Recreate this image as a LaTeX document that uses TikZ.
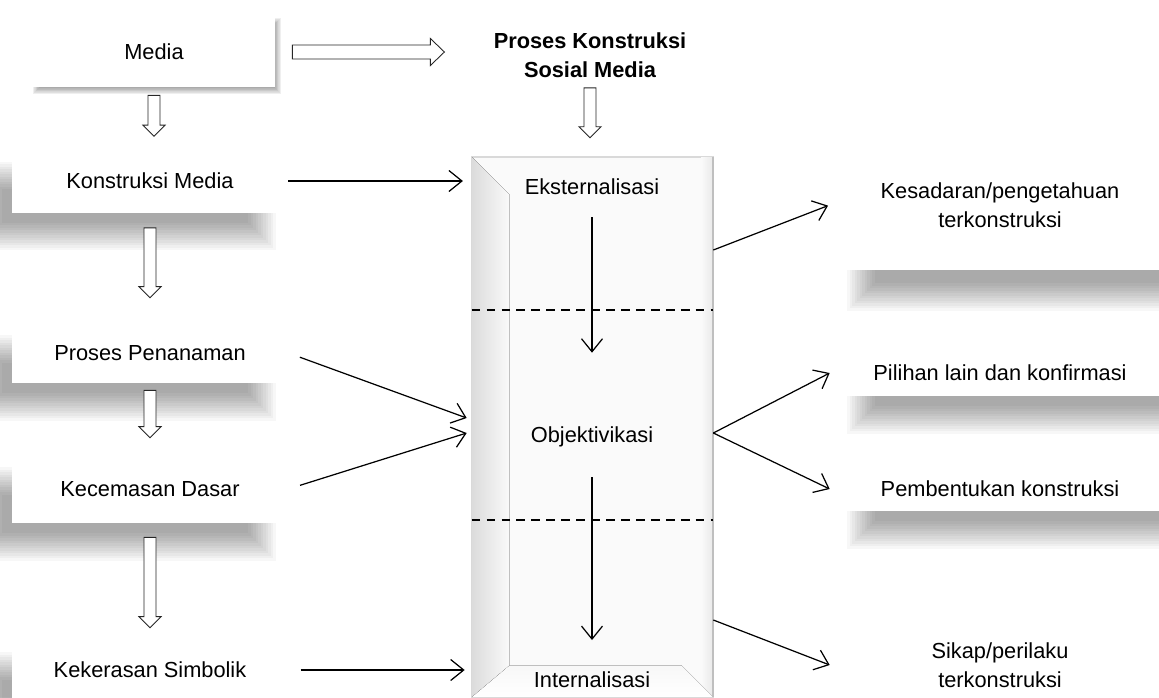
\documentclass[tikz,border=0pt]{standalone}
\usepackage{fontspec}
\setmainfont{Liberation Sans}
\usepackage{tikz}
\usetikzlibrary{arrows.meta}
\usetikzlibrary{calc,backgrounds,positioning}

\newcommand{\diafont}{\fontsize{12.4pt}{16.5pt}\selectfont}
% hollow block arrows between two nodes (gaps in px)
\newcommand{\hollowdown}[4]{%
	\draw[hollow] ($(#1)+(-6,#3)$) -- ($(#1)+(6,#3)$)
		-- ($(#1 |- #2)+(6,-#4-11)$) -- ($(#1 |- #2)+(11,-#4-11)$)
		-- ($(#1 |- #2)+(0,-#4)$)
		-- ($(#1 |- #2)+(-11,-#4-11)$) -- ($(#1 |- #2)+(-6,-#4-11)$) -- cycle;}
\newcommand{\hollowright}[4]{%
	\draw[hollow] ($(#1)+(#3,-7)$) -- ($(#1)+(#3,7)$)
		-- ($(#2 |- #1)+(-#4-14,7)$) -- ($(#2 |- #1)+(-#4-14,13.5)$)
		-- ($(#2 |- #1)+(-#4,0)$)
		-- ($(#2 |- #1)+(-#4-14,-13.5)$) -- ($(#2 |- #1)+(-#4-14,-7)$) -- cycle;}
% soft shadow behind a node: node, dx, dy, step
\newcommand{\softshadow}[4]{%
	\foreach \i in {1,...,12}
		\fill[black, opacity=0.032] ($(#1.north west)+(#2+\i*#4-6*#4,#3+\i*#4-6*#4)$)
			rectangle ($(#1.south east)+(#2-\i*#4+6*#4,#3-\i*#4+6*#4)$);}

\begin{document}
\begin{tikzpicture}[x=0.02cm, y=-0.02cm, font=\diafont,
	>={Straight Barb[length=2.6mm,width=4.2mm]},
	hollow/.style={draw=black!85, fill=white, line width=0.5pt},
	leftbox/.style={fill=white, minimum width=5.52cm, inner sep=0pt},
	mediabox/.style={fill=white, minimum width=4.84cm, minimum height=1.4cm, inner sep=0pt},
	rightbox/.style={fill=white, minimum width=6.8cm, inner sep=0pt, align=center},
	column/.style={minimum width=4.82cm, minimum height=10.8cm, inner sep=0pt,
		fill=gray!4, draw=gray!30, line width=0.4pt},
	stage/.style={inner sep=0pt}]

	\useasboundingbox (0,0) rectangle (1159,697);
	\begin{scope}[on background layer]
		\fill[white] (0,0) rectangle (1159,697);
	\end{scope}

	% boxes
	\node[mediabox] (media) at (154,52) {Media};
	\node[inner sep=0pt, align=center, font=\diafont\bfseries] (judul) at (590,55) {Proses Konstruksi\\Sosial Media};

	\node[leftbox, minimum height=1.26cm] (konstr) at (150,181) {Konstruksi Media};
	\node[leftbox, minimum height=1.2cm] (penan) at (150,353) {Proses Penanaman};
	\node[leftbox, minimum height=1.36cm] (kecem) at (150,489) {Kecemasan Dasar};
	\node[leftbox, minimum height=1.2cm] (keker) at (150,670) {Kekerasan Simbolik};

	\node[rightbox, minimum height=2.6cm] (kes) at (1000,205) {Kesadaran/pengetahuan\\terkonstruksi};
	\node[rightbox, minimum height=0.92cm] (pil) at (1000,373) {Pilihan lain dan konfirmasi};
	\node[rightbox, minimum height=0.88cm] (pemb) at (1000,489) {Pembentukan konstruksi};
	\node[rightbox, minimum height=1.6cm] (sikap) at (1000,665) {Sikap/perilaku\\terkonstruksi};

	\begin{scope}[on background layer]
		\softshadow{media}{3}{4}{0.6}
		\softshadow{konstr}{-25}{25}{2.5}
		\softshadow{penan}{-25}{25}{2.5}
		\softshadow{kecem}{-25}{25}{2.5}
		\softshadow{keker}{-25}{25}{2.5}
		\softshadow{kes}{30}{28}{2.5}
		\softshadow{pil}{30}{25}{2.5}
		\softshadow{pemb}{30}{25}{2.5}
		\softshadow{sikap}{30}{25}{2.5}
	\end{scope}

	% bevelled column
	\node[column] (proses) at (592.5,427) {};
	\fill[left color=gray!28, right color=gray!4] (proses.north west) -- ($(proses.north west)+(38,38)$)
		-- ($(proses.south west)+(38,-32)$) -- (proses.south west) -- cycle;
	\fill[left color=gray!4, right color=gray!18] ($(proses.north east)+(-12,0)$) rectangle (proses.south east);
	\fill[top color=gray!6, bottom color=white] ($(proses.south west)+(38,-32)$) -- ($(proses.south east)+(-32,-32)$)
		-- (proses.south east) -- (proses.south west) -- cycle;
	\draw[gray!30, line width=0.4pt] (proses.north west) rectangle (proses.south east);
	\draw[gray!50, line width=1pt] (proses.north east) -- (proses.south east);

	\node[stage] (ekst) at (592,187) {Eksternalisasi};
	\node[stage] (objek) at (592,437) {Objektivikasi};
	\node[stage] (inter) at (592,680) {Internalisasi};

	\coordinate (garis1) at (592,310);
	\coordinate (garis2) at (592,520);
	\draw[dashed, dash pattern=on 5pt off 3.5pt, line width=0.6pt] (proses.west |- garis1) -- (proses.east |- garis1);
	\draw[dashed, dash pattern=on 5pt off 3.5pt, line width=0.6pt] (proses.west |- garis2) -- (proses.east |- garis2);

	% hollow arrows
	\hollowright{media.east}{judul.west}{17}{49}
	\hollowdown{judul.south}{proses.north}{10}{19}
	\hollowdown{media.south}{konstr.north}{8}{13}
	\hollowdown{konstr.south}{penan.north}{15}{25}
	\hollowdown{penan.south}{kecem.north}{7}{17}
	\hollowdown{kecem.south}{keker.north}{14}{12}

	% thin arrows
	\coordinate (masuk1) at ($(proses.west)+(-5,-9)$);
	\coordinate (masuk2) at ($(proses.west)+(-5,6)$);
	\coordinate (keluar1) at ($(proses.east)+(0,-177)$);
	\coordinate (keluar2) at ($(proses.east)+(0,6)$);
	\coordinate (keluar3) at ($(proses.east)+(0,193)$);

	\begin{scope}[every edge/.style={draw=black, line width=0.7pt, ->}]
		\path (ekst) edge[shorten <=12.5pt, shorten >=42pt] (objek);
		\path (objek) edge[shorten <=17pt, shorten >=18pt] (inter);
		\path (konstr.east) edge[shorten >=5pt] (konstr.east -| proses.west);
		\path (penan.east) edge[shorten <=7pt] (masuk1);
		\path (kecem.east) edge[shorten <=7pt] (masuk2);
		\path (keker.east) edge[shorten <=7pt, shorten >=4pt] (keker.east -| proses.west);
		\path (keluar1) edge[shorten >=1pt] (kes.west);
		\path (keluar2) edge (pil.west);
		\path (keluar2) edge (pemb.west);
		\path (keluar3) edge (sikap.west);
	\end{scope}
\end{tikzpicture}
\end{document}
